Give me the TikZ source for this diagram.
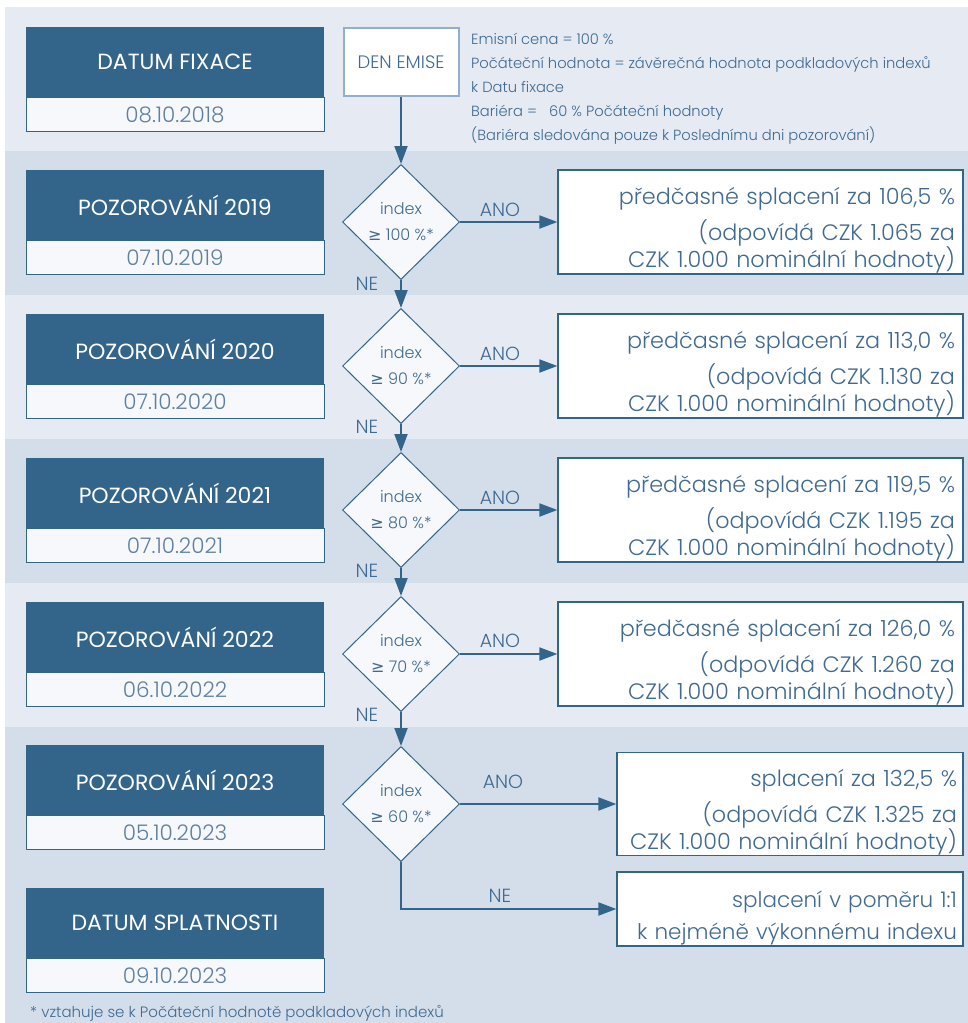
\documentclass[tikz,border=0pt]{standalone}
\usepackage{fontspec}
\IfFontExistsTF{Poppins Light}{\setmainfont{Poppins Light}}{\setmainfont{Poppins}}
\newfontfamily\titlefont{Poppins}
\newfontfamily\symfont{DejaVu Sans}
\usetikzlibrary{positioning,shapes.geometric,arrows.meta}

\definecolor{boxblue}{HTML}{33658B}
\definecolor{textblue}{HTML}{3F6A92}
\definecolor{dateblue}{HTML}{5D80A3}
\definecolor{bandlight}{HTML}{E6EBF3}
\definecolor{banddark}{HTML}{D4DDEA}
\definecolor{palefill}{HTML}{F6F8FB}
\definecolor{emiseline}{HTML}{93ADCC}

\newcommand{\gesym}{{\symfont ≥}}

\tikzset{
  titlebox/.style={fill=boxblue, text=white, minimum width=298pt, minimum height=70pt,
    inner sep=0pt, font=\titlefont\fontsize{22}{24}\selectfont},
  datebox/.style={draw=boxblue, line width=1pt, fill=palefill, text=dateblue,
    minimum width=298pt, minimum height=34pt, inner sep=0pt, font=\fontsize{21.5}{22}\selectfont},
  cond/.style={diamond, draw=boxblue, line width=1pt, fill=palefill, text=textblue,
    minimum width=117pt, minimum height=115pt, inner sep=0pt, align=center,
    font=\fontsize{16}{26}\selectfont},
  resbox/.style={draw=boxblue, line width=1.3pt, fill=white, text=textblue, align=right,
    inner xsep=8pt, inner ysep=0pt, font=\fontsize{22.3}{24}\selectfont,
    execute at begin node=\rule{0pt}{34pt}},
  flow/.style={draw=boxblue, line width=2pt, ->},
  lbl/.style={text=textblue, inner sep=0pt, font=\fontsize{19}{20}\selectfont},
}

\begin{document}
\begin{tikzpicture}[x=1pt, y=-1pt, >={Triangle[length=18pt,width=13pt]}]
    \useasboundingbox (0,0) rectangle (968,1023);

    \fill[bandlight] (5,7) rectangle (968,151);
    \fill[banddark] (5,151) rectangle (968,295);
    \fill[bandlight] (5,295) rectangle (968,439);
    \fill[banddark] (5,439) rectangle (968,583);
    \fill[bandlight] (5,583) rectangle (968,727);
    \fill[banddark] (5,727) rectangle (968,1023);

    \node[titlebox, anchor=north] (fix) at (175,27) {DATUM FIXACE};
    \node[datebox, below=0pt of fix] (fixdate) {08.10.2018};
    \node[titlebox, anchor=north] (p2019) at (175,170) {POZOROVÁNÍ 2019};
    \node[datebox, below=0pt of p2019] (p2019date) {07.10.2019};
    \node[titlebox, anchor=north] (p2020) at (175,314) {POZOROVÁNÍ 2020};
    \node[datebox, below=0pt of p2020] (p2020date) {07.10.2020};
    \node[titlebox, anchor=north] (p2021) at (175,458) {POZOROVÁNÍ 2021};
    \node[datebox, below=0pt of p2021] (p2021date) {07.10.2021};
    \node[titlebox, anchor=north] (p2022) at (175,602) {POZOROVÁNÍ 2022};
    \node[datebox, below=0pt of p2022] (p2022date) {06.10.2022};
    \node[titlebox, anchor=north] (p2023) at (175,745) {POZOROVÁNÍ 2023};
    \node[datebox, below=0pt of p2023] (p2023date) {05.10.2023};
    \node[titlebox, anchor=north] (splat) at (175,888) {DATUM SPLATNOSTI};
    \node[datebox, below=0pt of splat] (splatdate) {09.10.2023};

    \node[draw=emiseline, line width=2pt, fill=white, text=textblue, minimum width=115pt,
      minimum height=68pt, font=\fontsize{18}{18}\selectfont] (emise) at (401,62) {DEN EMISE};
    \node[lbl, anchor=north west, align=left, font=\fontsize{14.7}{24}\selectfont] (info) at (471,33)
      {Emisní cena = 100 \%\\
       Počáteční hodnota = závěrečná hodnota podkladových indexů\\
       k Datu fixace\\
       Bariéra = \ \ 60 \% Počáteční hodnoty\\
       (Bariéra sledována pouze k Poslednímu dni pozorování)};

    \node[cond] (d1) at (401,222) {index\\ \gesym\ 100 \%*};
    \node[cond] (d2) at (401,366) {index\\ \gesym\ 90 \%*};
    \node[cond] (d3) at (401,510) {index\\ \gesym\ 80 \%*};
    \node[cond] (d4) at (401,654) {index\\ \gesym\ 70 \%*};
    \node[cond] (d5) at (401,804) {index\\ \gesym\ 60 \%*};

    \node[resbox, text width=389pt, minimum height=104pt] (r1) at (760.5,222)
      {předčasné splacení za 106,5 \%\\[8pt] (odpovídá CZK 1.065 za\\ CZK 1.000 nominální hodnoty)};
    \node[resbox, text width=389pt, minimum height=104pt] (r2) at (760.5,366)
      {předčasné splacení za 113,0 \%\\[8pt] (odpovídá CZK 1.130 za\\ CZK 1.000 nominální hodnoty)};
    \node[resbox, text width=389pt, minimum height=104pt] (r3) at (760.5,510)
      {předčasné splacení za 119,5 \%\\[8pt] (odpovídá CZK 1.195 za\\ CZK 1.000 nominální hodnoty)};
    \node[resbox, text width=389pt, minimum height=104pt] (r4) at (760.5,654)
      {předčasné splacení za 126,0 \%\\[8pt] (odpovídá CZK 1.260 za\\ CZK 1.000 nominální hodnoty)};
    \node[resbox, text width=334pt, inner xsep=6pt, minimum height=99pt,
      execute at begin node=\rule{0pt}{26pt}] (r5) at (790,804)
      {splacení za 132,5 \%\\[8pt] (odpovídá CZK 1.325 za\\ CZK 1.000 nominální hodnoty)};
    \node[resbox, text width=334pt, inner xsep=6pt, minimum height=74pt,
      font=\fontsize{21.5}{24}\selectfont] (r6) at (790,909)
      {splacení v poměru 1:1\\[8pt] k nejméně výkonnému indexu};

    \draw[flow] (emise.south) -- (d1.north);
    \draw[flow] (d1.south) -- (d2.north);
    \draw[flow] (d2.south) -- (d3.north);
    \draw[flow] (d3.south) -- (d4.north);
    \draw[flow] (d4.south) -- (d5.north);
    \draw[flow] (d1.east) -- (r1.west);
    \draw[flow] (d2.east) -- (r2.west);
    \draw[flow] (d3.east) -- (r3.west);
    \draw[flow] (d4.east) -- (r4.west);
    \draw[flow] (d5.east) -- (r5.west);
    \draw[flow] (d5.south) |- (r6.west);

    \node[lbl] (ano1) at (500,210) {ANO};
    \node[lbl] (ano2) at (500,354) {ANO};
    \node[lbl] (ano3) at (500,498) {ANO};
    \node[lbl] (ano4) at (500,641) {ANO};
    \node[lbl] (ano5) at (503,782) {ANO};
    \node[lbl] (ne1) at (367,284) {NE};
    \node[lbl] (ne2) at (367,427) {NE};
    \node[lbl] (ne3) at (367,571) {NE};
    \node[lbl] (ne4) at (367,715) {NE};
    \node[lbl] (ne5) at (500,896) {NE};

    \node[lbl, anchor=west, font=\fontsize{15}{18}\selectfont] (note) at (30,1013)
      {* vztahuje se k Počáteční hodnotě podkladových indexů};
\end{tikzpicture}
\end{document}
